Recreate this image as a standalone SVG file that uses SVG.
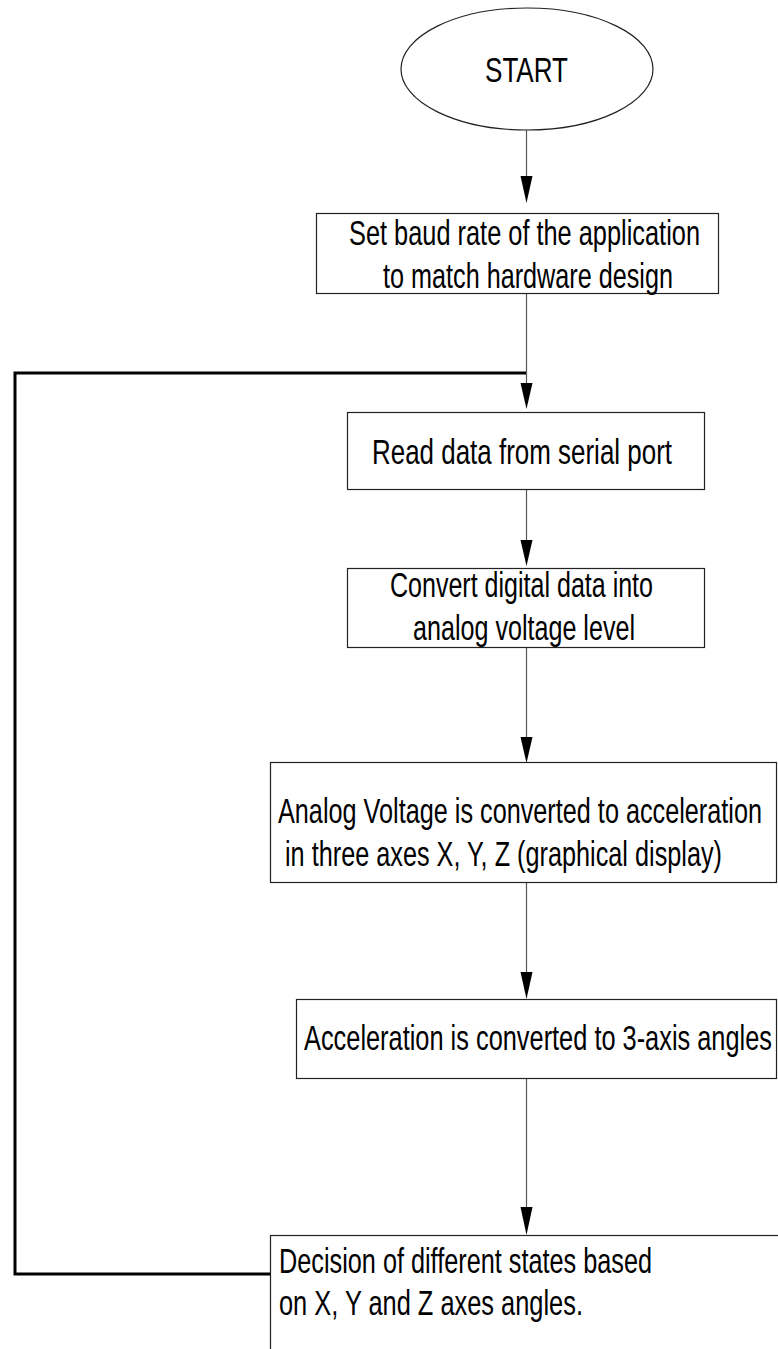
<svg xmlns="http://www.w3.org/2000/svg" width="778" height="1349" viewBox="0 0 778 1349">
<style>
.box{fill:#fff;stroke:#222;stroke-width:1.2}
.t{font-family:"Liberation Sans",Arial,sans-serif;font-size:25px;fill:#000}
.c{fill:none;stroke:#555;stroke-width:1.2}
.fb{fill:none;stroke:#000;stroke-width:3}
.ah{fill:#000}
</style>
<rect width="778" height="1349" fill="#fff"/>
<g id="connectors">
<line class="c" x1="526.5" y1="130" x2="526.5" y2="178"/>
<polygon class="ah" points="520.5,176 532.5,176 526.5,203"/>
<line class="c" x1="526.5" y1="293" x2="526.5" y2="385"/>
<polygon class="ah" points="520.5,383 532.5,383 526.5,409"/>
<line class="c" x1="526.5" y1="489" x2="526.5" y2="542"/>
<polygon class="ah" points="520.5,540 532.5,540 526.5,566"/>
<line class="c" x1="526.5" y1="647" x2="526.5" y2="739"/>
<polygon class="ah" points="520.5,737 532.5,737 526.5,763"/>
<line class="c" x1="526.5" y1="882" x2="526.5" y2="974"/>
<polygon class="ah" points="520.5,972 532.5,972 526.5,999"/>
<line class="c" x1="526.5" y1="1078" x2="526.5" y2="1209"/>
<polygon class="ah" points="520.5,1207 532.5,1207 526.5,1235"/>
<polyline class="fb" points="526,373 15,373 15,1274 270,1274"/>
</g>
<g id="start">
<ellipse cx="527" cy="69" rx="126" ry="61" fill="#fff" stroke="#222" stroke-width="1.2"/>
<text class="t" transform="translate(485,82) scale(1,1.4)" textLength="83" lengthAdjust="spacingAndGlyphs">START</text>
</g>
<g id="set-baud">
<rect class="box" x="316.5" y="213.5" width="402" height="80"/>
<text class="t" transform="translate(349,245) scale(1,1.4)" textLength="351" lengthAdjust="spacingAndGlyphs">Set baud rate of the application</text>
<text class="t" transform="translate(383,288) scale(1,1.4)" textLength="290" lengthAdjust="spacingAndGlyphs">to match hardware design</text>
</g>
<g id="read-data">
<rect class="box" x="347.5" y="412.5" width="357" height="77"/>
<text class="t" transform="translate(372,464) scale(1,1.4)" textLength="300" lengthAdjust="spacingAndGlyphs">Read data from serial port</text>
</g>
<g id="convert">
<rect class="box" x="347.5" y="568.5" width="357" height="79"/>
<text class="t" transform="translate(390,597) scale(1,1.4)" textLength="263" lengthAdjust="spacingAndGlyphs">Convert digital data into</text>
<text class="t" transform="translate(413,640) scale(1,1.4)" textLength="222" lengthAdjust="spacingAndGlyphs">analog voltage level</text>
</g>
<g id="analog-voltage">
<rect class="box" x="270.5" y="762.5" width="506" height="120"/>
<text class="t" transform="translate(278,823) scale(1,1.4)" textLength="484" lengthAdjust="spacingAndGlyphs">Analog Voltage is converted to acceleration</text>
<text class="t" transform="translate(285,866) scale(1,1.4)" textLength="437" lengthAdjust="spacingAndGlyphs">in three axes X, Y, Z (graphical display)</text>
</g>
<g id="acceleration">
<rect class="box" x="296.5" y="999.5" width="480" height="79"/>
<text class="t" transform="translate(304,1050) scale(1,1.4)" textLength="468" lengthAdjust="spacingAndGlyphs">Acceleration is converted to 3-axis angles</text>
</g>
<g id="decision">
<rect class="box" x="270.5" y="1235.5" width="530" height="130"/>
<text class="t" transform="translate(279,1273) scale(1,1.4)" textLength="373" lengthAdjust="spacingAndGlyphs">Decision of different states based</text>
<text class="t" transform="translate(279,1315) scale(1,1.4)" textLength="304" lengthAdjust="spacingAndGlyphs">on X, Y and Z axes angles.</text>
</g>
</svg>
